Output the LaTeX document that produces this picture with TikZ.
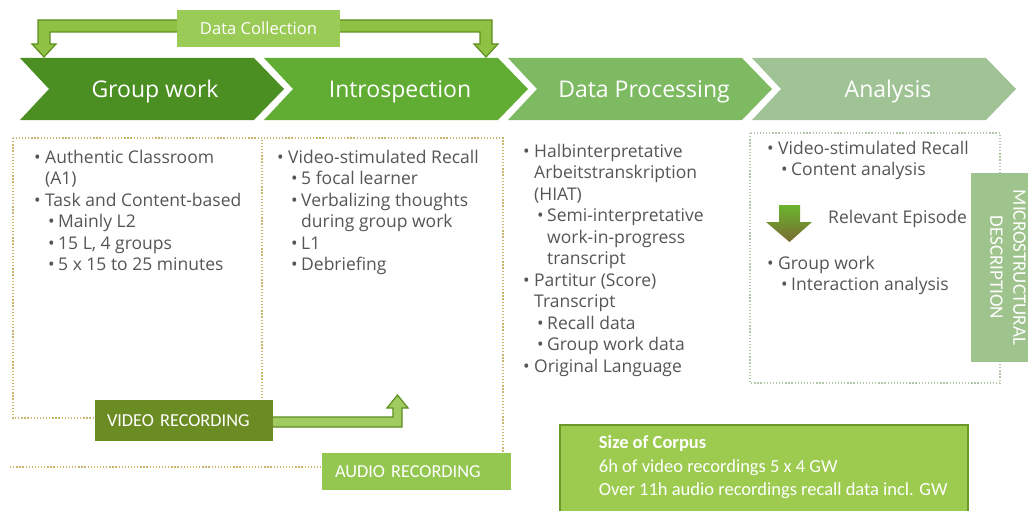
\documentclass[tikz,border=0pt]{standalone}
\usepackage{fontspec}
\setmainfont{Open Sans}
\newfontfamily\carlito{Carlito}
\usepackage{tikz}

\definecolor{gwgreen}{HTML}{4B8E22}
\definecolor{ingreen}{HTML}{61AD33}
\definecolor{dpgreen}{HTML}{7DBA62}
\definecolor{angreen}{HTML}{A0C396}
\definecolor{dcgreen}{HTML}{9BCB57}
\definecolor{brkfill}{HTML}{8FC244}
\definecolor{brkline}{HTML}{5E8E1E}
\definecolor{vidgreen}{HTML}{6A8C22}
\definecolor{audgreen}{HTML}{93C750}
\definecolor{corfill}{HTML}{9CCB50}
\definecolor{corline}{HTML}{6A9A2A}
\definecolor{micgreen}{HTML}{9FC38D}
\definecolor{dotgold}{HTML}{C8B46A}
\definecolor{dotgray}{HTML}{B2C6AA}
\definecolor{txtgray}{HTML}{555555}
\definecolor{epibrown}{HTML}{7A6A32}

\newcommand{\li}[1]{\makebox[11pt][l]{\textbullet}#1}
\newcommand{\lii}[1]{\hspace*{14pt}\makebox[10pt][l]{\textbullet}#1}
\newcommand{\cti}[1]{\hspace*{11pt}#1}
\newcommand{\ctii}[1]{\hspace*{24pt}#1}

\tikzset{
  phase/.style={text=white, anchor=base, font=\fontsize{23}{27}\selectfont},
  col/.style={anchor=north west, align=left, inner sep=0pt, text=txtgray,
    font=\fontsize{17.5}{21.5}\selectfont},
  brk/.style={fill=brkfill, draw=brkline, line width=1.2pt, line join=miter},
  recbox/.style={text=white, align=left, inner ysep=0pt,
    font=\carlito\fontsize{18.3}{21}\selectfont},
  dots/.style={dash pattern=on 1.3pt off 1.8pt, line width=1.3pt},
}

\begin{document}
\begin{tikzpicture}[x=1pt, y=-1pt]
    \useasboundingbox (0,0) rectangle (1028,511);

    % phases
    \fill[gwgreen] (20,58) -- (254,58) -- (284,89) -- (254,120) -- (20,120) -- (49,89) -- cycle;
    \fill[ingreen] (264,58) -- (498,58) -- (528,89) -- (498,120) -- (264,120) -- (293,89) -- cycle;
    \fill[dpgreen] (508,58) -- (742,58) -- (772,89) -- (742,120) -- (508,120) -- (537,89) -- cycle;
    \fill[angreen] (752,58) -- (986,58) -- (1016,89) -- (986,120) -- (752,120) -- (781,89) -- cycle;
    \node[phase] (gw) at (155,97) {Group work};
    \node[phase] (intro) at (400,97) {Introspection};
    \node[phase] (proc) at (644,97) {Data Processing};
    \node[phase] (ana) at (888,97) {Analysis};

    % data collection
    \node[fill=dcgreen, text=white, minimum width=163pt, minimum height=37pt,
      font=\fontsize{16.6}{19}\selectfont] (dc) at (258.5,28.5) {Data Collection};
    \filldraw[brk] ([yshift=8.5pt]dc.west) -- (38,20) -- (38,44) -- (32,44) -- (44,57)
      -- (56,44) -- (50,44) -- (50,32) -- ([yshift=-3.5pt]dc.west);
    \filldraw[brk] ([yshift=8.5pt]dc.east) -- (492,20) -- (492,44) -- (498,44) -- (486,57)
      -- (474,44) -- (480,44) -- (480,32) -- ([yshift=-3.5pt]dc.east);

    % dotted frames
    \draw[dots, dotgold] (13,138) rectangle (262,418);
    \draw[dots, dotgold] (10,467) -| (503,138) -- (262,138);
    \draw[dots, dotgray] (750,133) rectangle (1000,383);

    % recordings
    \node[recbox, fill=vidgreen, text width=154pt, inner xsep=12pt, minimum height=41pt] (vid) at (184,420.5) {VIDEO RECORDING};
    \node[recbox, fill=audgreen, text width=163pt, inner xsep=13pt, minimum height=37pt] (aud) at (416.5,471.5) {AUDIO RECORDING};
    \filldraw[brk, fill=brkfill!85!white] ([yshift=3.5pt]vid.east) -- (393,417) -- (393,408) -- (387,408) -- (397.5,395)
      -- (408,408) -- (402,408) -- (402,427) -- ([yshift=-6.5pt]vid.east);

    % contents
    \node[col] (gwtxt) at (34,150) {\li{Authentic Classroom}\\ \cti{(A1)}\\ \li{Task and Content-based}\\
      \lii{Mainly L2}\\ \lii{15 L, 4 groups}\\ \lii{5 x 15 to 25 minutes}};
    \node[col] (intxt) at (277,150) {\li{Video-stimulated Recall}\\ \lii{5 focal learner}\\
      \lii{Verbalizing thoughts}\\ \ctii{during group work}\\ \lii{L1}\\ \lii{Debriefing}};
    \node[col] (proctxt) at (523,144) {\li{Halbinterpretative}\\ \cti{Arbeitstranskription}\\ \cti{(HIAT)}\\
      \lii{Semi-interpretative}\\ \ctii{work-in-progress}\\ \ctii{transcript}\\
      \li{Partitur (Score)}\\ \cti{Transcript}\\ \lii{Recall data}\\ \lii{Group work data}\\
      \li{Original Language}};
    \node[col] (anatxt) at (767,141) {\li{Video-stimulated Recall}\\ \lii{Content analysis}};
    \node[col] (anatxt2) at (767,256) {\li{Group work}\\ \lii{Interaction analysis}};

    % relevant episode
    \shade[top color=ingreen!90!lime, bottom color=epibrown] (779,205) -- (800,205) -- (800,222) -- (812,222)
      -- (789.5,242) -- (766,222) -- (779,222) -- cycle;
    \node[anchor=base west, inner sep=0pt, text=txtgray, font=\fontsize{17.5}{21.5}\selectfont] (epi) at (828,223) {Relevant Episode};

    % microstructural description
    \node[fill=micgreen, text=white, rotate=-90, align=center, minimum width=189pt, minimum height=74pt,
      font=\carlito\fontsize{19}{23}\selectfont] (mic) at (1008,267.5) {MICROSTRUCTURAL\\DESCRIPTION};

    % size of corpus
    \node[fill=corfill, draw=corline, line width=2.5pt, minimum width=408pt, minimum height=105pt] (cor) at (764,477.5) {};
    \node[anchor=north west, align=left, inner sep=0pt, text=white, font=\carlito\fontsize{18.5}{23.5}\selectfont]
      (cortxt) at ([xshift=40pt,yshift=-12pt]cor.north west) {\textbf{Size of Corpus}\\6h of video recordings 5 x 4 GW\\
      Over 11h audio recordings recall data incl. GW};
\end{tikzpicture}
\end{document}
